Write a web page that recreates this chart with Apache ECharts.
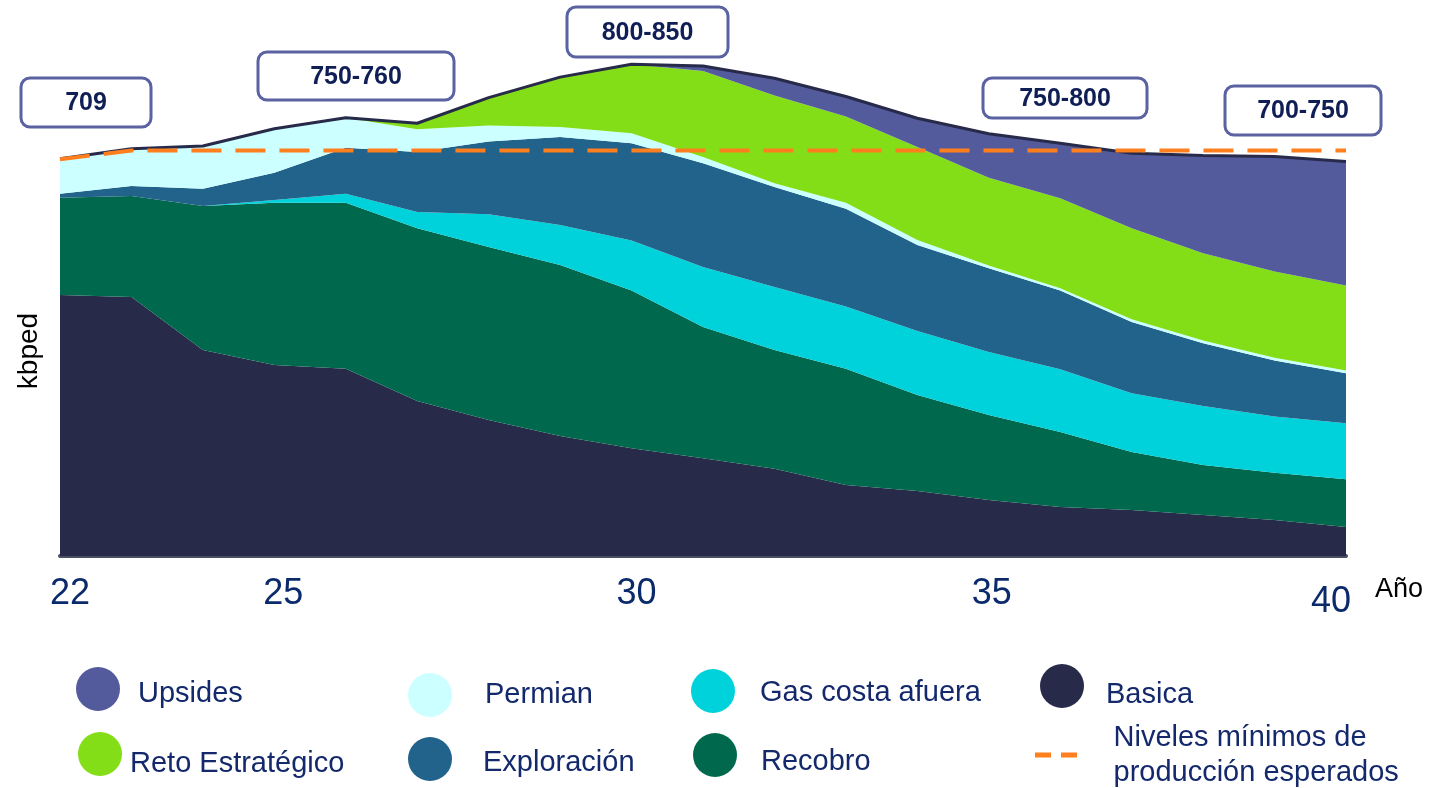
<!DOCTYPE html>
<html>
<head>
<meta charset="utf-8">
<title>Producción kbped</title>
<script src="https://cdn.jsdelivr.net/npm/echarts@6/dist/echarts.min.js"></script>
<style>
  html, body { margin: 0; padding: 0; background: #fff; }
  #chart { width: 1429px; height: 788px; }
</style>
</head>
<body>
<div id="chart"></div>
<script>
// años (eje x) y etiquetas visibles
const years = ['22','23','24','25','26','27','28','29','30','31','32','33','34','35','36','37','38','39','40'];
const shownYears = ['22', '25', '30', '35', '40'];

// capas apiladas, de abajo hacia arriba (kbped)
const basica      = [470, 466, 371, 344, 337, 279, 245, 216, 194, 176, 157, 128, 117, 101, 88, 83, 74, 65, 52];
const recobro     = [175, 182, 259, 292, 299, 311, 311, 308, 284, 236, 214, 209, 173, 153, 135, 104, 90, 85, 86];
const gasCosta    = [0, 0, 0, 5, 16, 29, 59, 72, 90, 108, 113, 112, 115, 113, 113, 106, 106, 101, 101];
const exploracion = [7, 18, 31, 49, 83, 108, 131, 158, 175, 187, 180, 176, 155, 151, 142, 128, 113, 101, 90];
const permian     = [63, 67, 77, 79, 54, 41, 29, 18, 18, 11, 7, 11, 9, 5, 4, 5, 5, 5, 5];
const reto        = [0, 0, 0, 0, 0, 11, 50, 90, 124, 155, 158, 155, 167, 158, 162, 164, 157, 155, 153];
const upsides     = [0, 0, 0, 0, 0, 0, 0, 0, 0, 9, 31, 36, 52, 79, 99, 135, 176, 207, 223];

// niveles mínimos esperados (línea discontinua)
const minimos = [714, 730, 730, 730, 730, 730, 730, 730, 730, 730, 730, 730, 730, 730, 730, 730, 730, 730, 730];

// textos de los recuadros
const notas = ['709', '750-760', '800-850', '750-800', '700-750'];

const layers = [
  { name: 'Basica', data: basica, color: '#282A4A' },
  { name: 'Recobro', data: recobro, color: '#00694D' },
  { name: 'Gas costa afuera', data: gasCosta, color: '#00D2DC' },
  { name: 'Exploración', data: exploracion, color: '#21638A' },
  { name: 'Permian', data: permian, color: '#CCFFFF' },
  { name: 'Reto Estratégico', data: reto, color: '#84DE17' },
  { name: 'Upsides', data: upsides, color: '#535B9C' }
];
const total = years.map((y, i) => layers.reduce((s, l) => s + l.data[i], 0));

const FONT = '"Liberation Sans", Arial, sans-serif';
const NAVY = '#13296B';
const MINIMOS = 'Niveles mínimos de producción esperados';

let chart = echarts.init(document.getElementById('chart'));

// una leyenda por elemento para ubicarlos como en el original
function leyenda(name, left, top, padTop, padLeft) {
  return {
    data: [name], left: left, top: top, padding: 0,
    icon: 'circle', itemWidth: 44, itemHeight: 45,
    selectedMode: false,
    formatter: n => '{t|' + n + '}',
    textStyle: {
      color: NAVY, fontSize: 29, fontFamily: FONT,
      rich: { t: { color: NAVY, fontSize: 29, fontFamily: FONT, padding: [padTop, 0, 0, padLeft] } }
    }
  };
}

// recuadros de notas (posición en pixeles)
const boxes = [
  { x: 21, y: 78, w: 130, h: 49 },
  { x: 258, y: 52, w: 196, h: 48 },
  { x: 567, y: 7, w: 161, h: 50 },
  { x: 983, y: 78, w: 164, h: 40 },
  { x: 1225, y: 86, w: 156, h: 49 }
];
const graphic = [];
boxes.forEach((b, i) => {
  graphic.push({
    type: 'rect', shape: { x: b.x, y: b.y, width: b.w, height: b.h, r: 9 },
    style: { fill: '#fff', stroke: '#5A62A2', lineWidth: 3 }
  });
  graphic.push({
    type: 'text', x: b.x + b.w / 2, y: b.y + b.h / 2 + 1,
    style: { text: notas[i], fill: '#0F1E55', fontSize: 25, fontWeight: 'bold', fontFamily: FONT, align: 'center', verticalAlign: 'middle' }
  });
});

const labelKey = { '22': 'a', '25': 'b', '30': 'c', '35': 'd', '40': 'e' };
const lbl = { fontSize: 36, color: '#0B2A6B', fontFamily: FONT };

let option = {
  animation: false,
  backgroundColor: '#fff',
  grid: { left: 60, right: 83, top: 56, height: 500 },
  xAxis: {
    type: 'category',
    data: years,
    boundaryGap: false,
    name: 'Año',
    nameLocation: 'end',
    nameGap: 29,
    nameTextStyle: { color: '#000', fontSize: 27, fontFamily: FONT, verticalAlign: 'top', padding: [20, 0, 0, 0] },
    axisLine: { lineStyle: { color: '#4A5060', width: 4 } },
    axisTick: { show: false },
    axisLabel: {
      margin: 20,
      interval: (idx, v) => shownYears.indexOf(years[idx]) >= 0,
      formatter: v => '{' + labelKey[v] + '|' + v + '}',
      rich: {
        a: Object.assign({ padding: [0, 0, 0, 20] }, lbl),
        b: Object.assign({ padding: [0, 0, 0, 18] }, lbl),
        c: Object.assign({ padding: [0, 0, 0, 10] }, lbl),
        d: Object.assign({ padding: [0, 0, 0, 6] }, lbl),
        e: Object.assign({ padding: [8, 30, 0, 0] }, lbl)
      }
    }
  },
  yAxis: {
    type: 'value',
    min: 0,
    max: 900,
    name: 'kbped',
    nameLocation: 'middle',
    nameRotate: 90,
    nameGap: 17,
    nameTextStyle: { color: '#000', fontSize: 28, fontFamily: FONT, padding: [0, 90, 0, 0] },
    axisLine: { show: false },
    axisTick: { show: false },
    axisLabel: { show: false },
    splitLine: { show: false }
  },
  legend: [
    leyenda('Upsides', 76, 667, 10, 13),
    leyenda('Permian', 408, 673, 0, 28),
    leyenda('Gas costa afuera', 691, 669, 4, 20),
    leyenda('Basica', 1040, 664, 17, 17),
    leyenda('Reto Estratégico', 78, 732, 20, 3),
    leyenda('Exploración', 408, 737, 7, 26),
    leyenda('Recobro', 693, 733, 14, 19),
    {
      data: [MINIMOS], left: 1035, top: 720, padding: 0,
      icon: 'path://M0,0H16V5H0Z M26,0H42V5H26Z', itemWidth: 43, itemHeight: 5,
      selectedMode: false,
      formatter: () => 'Niveles mínimos de\nproducción esperados',
      textStyle: { color: NAVY, fontSize: 29, fontFamily: FONT, lineHeight: 35, padding: [0, 0, 0, 31] }
    }
  ],
  graphic: graphic,
  series: layers.map(l => ({
    name: l.name,
    type: 'line',
    stack: 'prod',
    data: l.data,
    color: l.color,
    symbol: 'none',
    lineStyle: { width: 0 },
    areaStyle: { color: l.color, opacity: 1 }
  })).concat([
    {
      name: 'Total',
      type: 'line',
      data: total,
      symbol: 'none',
      lineStyle: { color: '#282A4A', width: 3 }
    },
    {
      name: MINIMOS,
      type: 'line',
      data: minimos,
      color: '#FF7F1E',
      symbol: 'none',
      lineStyle: { color: '#FF7F1E', width: 4, type: [30, 14] }
    }
  ])
};

chart.setOption(option);
</script>
</body>
</html>
